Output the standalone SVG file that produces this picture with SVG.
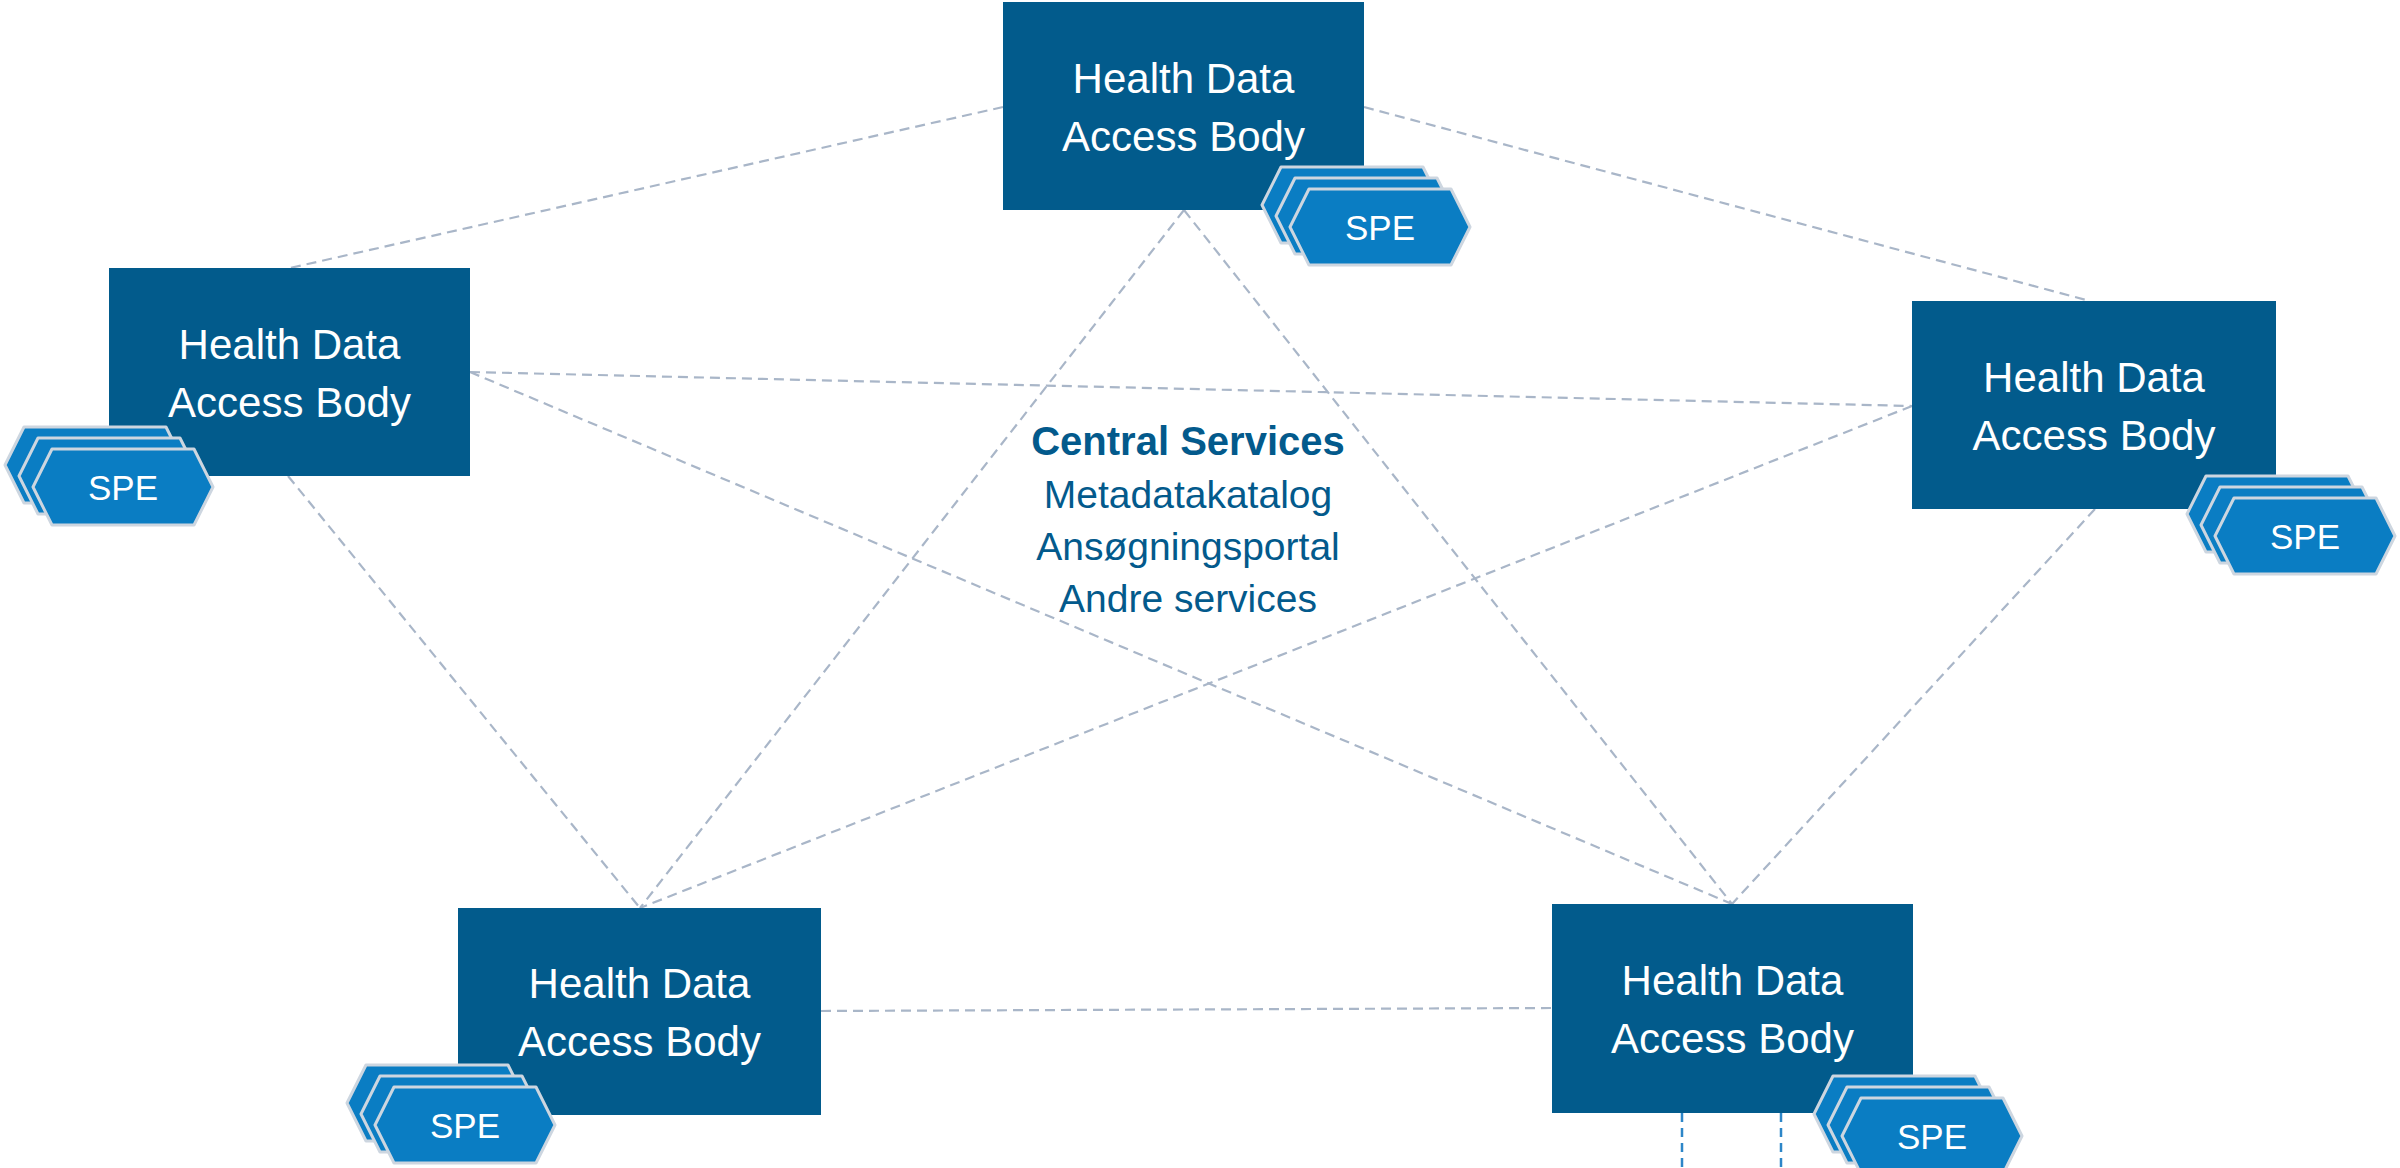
<svg xmlns="http://www.w3.org/2000/svg" width="2400" height="1168" viewBox="0 0 2400 1168">
<style>
.bg{fill:#ffffff}
.box{fill:#025b8c}
.bt{font-family:"Liberation Sans",Arial,sans-serif;font-size:42px;fill:#ffffff;text-anchor:middle}
.hex{fill:#0a7dc3;stroke:#cdd6e0;stroke-width:3;stroke-linejoin:round}
.st{font-family:"Liberation Sans",Arial,sans-serif;font-size:35px;fill:#ffffff;text-anchor:middle}
.con{stroke:#a9b6c8;stroke-width:2.2;stroke-dasharray:10 6;fill:none}
.vcon{stroke:#2d86c8;stroke-width:2.5;stroke-dasharray:9 6;fill:none}
.ct{font-family:"Liberation Sans",Arial,sans-serif;font-size:39px;fill:#035a8c;text-anchor:middle}
.ctb{font-weight:bold;font-size:40px}
</style>
<defs>
<path id="hx" d="M19,0 L161,0 L180,38 L161,76 L19,76 L0,38 Z"/>
</defs>
<rect class="bg" x="0" y="0" width="2400" height="1168"/>
<g id="connectors">
<line class="con" x1="1003" y1="107" x2="290" y2="268"/>
<line class="con" x1="1364" y1="107" x2="2090" y2="301"/>
<line class="con" x1="1184" y1="210" x2="640" y2="908"/>
<line class="con" x1="1184" y1="210" x2="1732" y2="904"/>
<line class="con" x1="470" y1="372" x2="1912" y2="406"/>
<line class="con" x1="470" y1="372" x2="1732" y2="904"/>
<line class="con" x1="288" y1="476" x2="640" y2="908"/>
<line class="con" x1="1912" y1="406" x2="640" y2="908"/>
<line class="con" x1="2095" y1="509" x2="1732" y2="904"/>
<line class="con" x1="821" y1="1011" x2="1552" y2="1008"/>
<line class="vcon" x1="1682" y1="1113" x2="1682" y2="1168"/>
<line class="vcon" x1="1781" y1="1113" x2="1781" y2="1168"/>
</g>
<g id="hdab-top">
<rect class="box" x="1003" y="2" width="361" height="208"/>
<text class="bt" x="1183.5" y="93">Health Data</text>
<text class="bt" x="1183.5" y="151">Access Body</text>
<use href="#hx" class="hex" x="1262" y="167"/>
<use href="#hx" class="hex" x="1276" y="178"/>
<use href="#hx" class="hex" x="1290" y="189"/>
<text class="st" x="1380" y="240">SPE</text>
</g>
<g id="hdab-left">
<rect class="box" x="109" y="268" width="361" height="208"/>
<text class="bt" x="289.5" y="359">Health Data</text>
<text class="bt" x="289.5" y="417">Access Body</text>
<use href="#hx" class="hex" x="5" y="427"/>
<use href="#hx" class="hex" x="19" y="438"/>
<use href="#hx" class="hex" x="33" y="449"/>
<text class="st" x="123" y="500">SPE</text>
</g>
<g id="hdab-right">
<rect class="box" x="1912" y="301" width="364" height="208"/>
<text class="bt" x="2094" y="392">Health Data</text>
<text class="bt" x="2094" y="450">Access Body</text>
<use href="#hx" class="hex" x="2187" y="476"/>
<use href="#hx" class="hex" x="2201" y="487"/>
<use href="#hx" class="hex" x="2215" y="498"/>
<text class="st" x="2305" y="549">SPE</text>
</g>
<g id="hdab-bottom-left">
<rect class="box" x="458" y="908" width="363" height="207"/>
<text class="bt" x="639.5" y="998">Health Data</text>
<text class="bt" x="639.5" y="1056">Access Body</text>
<use href="#hx" class="hex" x="347" y="1065"/>
<use href="#hx" class="hex" x="361" y="1076"/>
<use href="#hx" class="hex" x="375" y="1087"/>
<text class="st" x="465" y="1138">SPE</text>
</g>
<g id="hdab-bottom-right">
<rect class="box" x="1552" y="904" width="361" height="209"/>
<text class="bt" x="1732.5" y="995">Health Data</text>
<text class="bt" x="1732.5" y="1053">Access Body</text>
<use href="#hx" class="hex" x="1814" y="1076"/>
<use href="#hx" class="hex" x="1828" y="1087"/>
<use href="#hx" class="hex" x="1842" y="1098"/>
<text class="st" x="1932" y="1149">SPE</text>
</g>
<g id="central-services">
<text class="ct ctb" x="1188" y="455">Central Services</text>
<text class="ct" x="1188" y="508">Metadatakatalog</text>
<text class="ct" x="1188" y="560">Ansøgningsportal</text>
<text class="ct" x="1188" y="612">Andre services</text>
</g>
</svg>
